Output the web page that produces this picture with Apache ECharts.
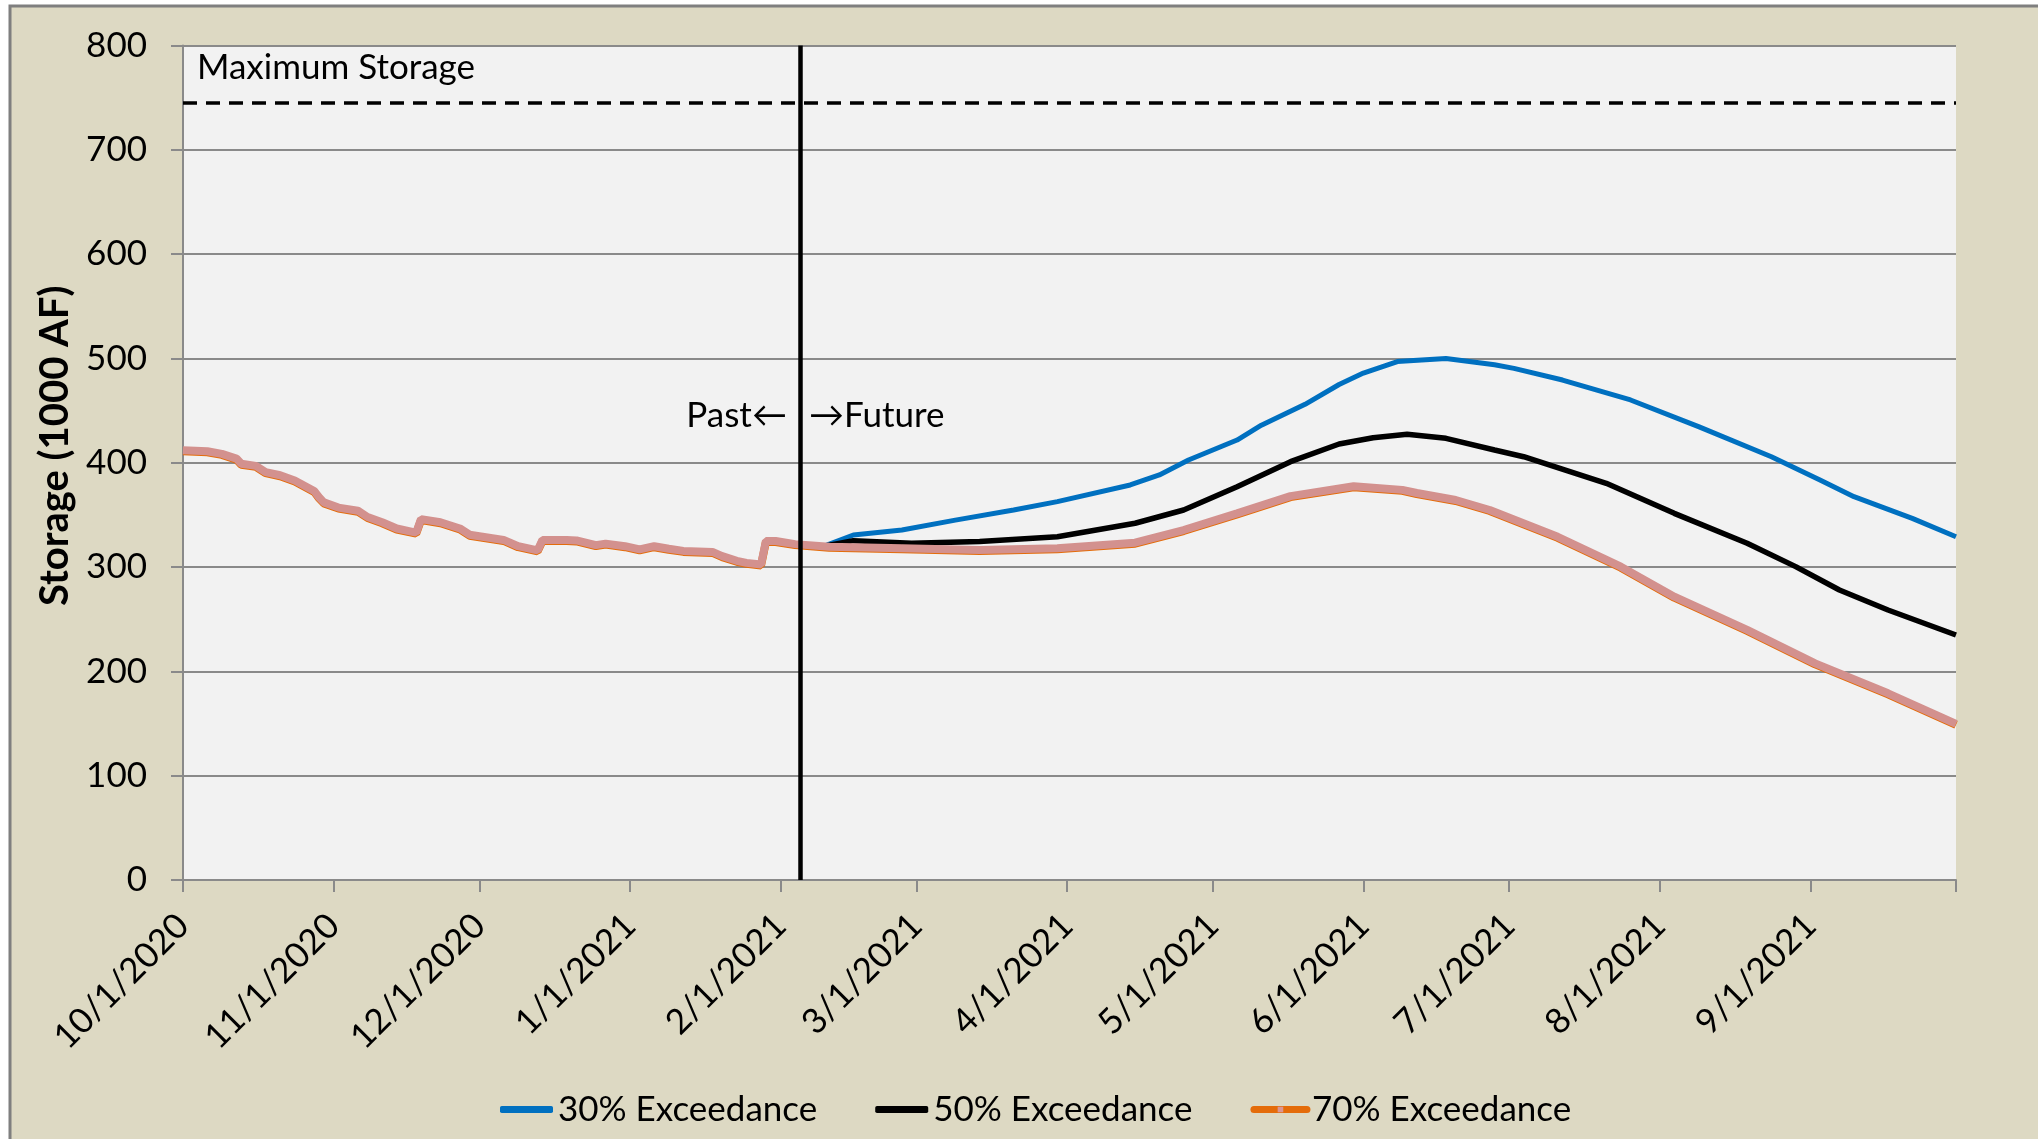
<!DOCTYPE html>
<html>
<head>
<meta charset="utf-8">
<script src="https://cdn.jsdelivr.net/npm/echarts@6/dist/echarts.min.js"></script>
<style>
html,body{margin:0;padding:0;background:#ffffff;}
#chart{width:2038px;height:1139px;}
</style>
</head>
<body>
<div id="chart"></div>
<script>
// ---------------- data ----------------
const seriesNames = ['30% Exceedance', '50% Exceedance', '70% Exceedance'];

// 70% exceedance (includes the observed past record)
const dates70 = ['2020-10-01','2020-10-06','2020-10-09','2020-10-12','2020-10-13','2020-10-16','2020-10-18','2020-10-21','2020-10-24','2020-10-26','2020-10-28','2020-10-29','2020-10-30','2020-11-02','2020-11-06','2020-11-08','2020-11-11','2020-11-14','2020-11-17','2020-11-18','2020-11-19','2020-11-23','2020-11-27','2020-11-29','2020-12-06','2020-12-09','2020-12-13','2020-12-14','2020-12-19','2020-12-21','2020-12-25','2020-12-27','2020-12-31','2021-01-03','2021-01-06','2021-01-09','2021-01-12','2021-01-18','2021-01-20','2021-01-23','2021-01-25','2021-01-28','2021-01-29','2021-01-31','2021-02-04','2021-02-11','2021-02-26','2021-03-14','2021-03-30','2021-04-15','2021-04-25','2021-05-06','2021-05-17','2021-05-30','2021-06-09','2021-06-12','2021-06-20','2021-06-27','2021-07-11','2021-07-24','2021-08-04','2021-08-19','2021-09-02','2021-09-17','2021-10-01'];
const values70 = [412,411,408.5,404,399,397,391,388,383,378,373,367,362,357,354,348,343,337,334,333,346,343,337,331,326,320,316,326,326,325.5,321,322.5,320,317,320,317.5,315.5,314.5,310.5,306,304,302.5,325,325,322,319.5,318,316.4,318,323.4,335.5,351.5,368,377.5,374,371,364.3,354.7,329,300.4,271.6,239.7,207.7,179,149.6];

// 30% exceedance forecast
const dates30 = ['2021-02-10','2021-02-16','2021-02-26','2021-03-09','2021-03-21','2021-03-30','2021-04-14','2021-04-20','2021-04-26','2021-05-06','2021-05-11','2021-05-20','2021-05-27','2021-06-01','2021-06-08','2021-06-18','2021-06-28','2021-07-02','2021-07-12','2021-07-26','2021-08-09','2021-08-24','2021-09-03','2021-09-10','2021-09-22','2021-10-01'];
const values30 = [320,330.7,335.5,345,354.7,362.7,378.7,388.3,402.6,421.8,436,456,475,486,497,500,494,490.5,479.3,460.2,434.6,405.8,383.5,367.5,346.7,329];

// 50% exceedance forecast
const dates50 = ['2021-02-10','2021-02-16','2021-02-28','2021-03-14','2021-03-30','2021-04-15','2021-04-25','2021-05-06','2021-05-17','2021-05-27','2021-06-03','2021-06-10','2021-06-18','2021-06-28','2021-07-04','2021-07-21','2021-08-04','2021-08-19','2021-08-29','2021-09-07','2021-09-17','2021-10-01'];
const values50 = [320,325.3,322.8,324.4,329,342,354.7,377,401,418,424,427.3,423.4,412.2,405.8,380.3,351.5,322.8,300.4,278,258.8,234.9];

const maxStorage = 745;
const splitDate = '2021-02-05';
const axisStart = '2020-10-01';
const axisEnd = '2021-10-01';
const yMin = 0, yMax = 800, yStep = 100;

// ---------------- helpers ----------------
function ts(s) { const p = s.split('-').map(Number); return new Date(p[0], p[1] - 1, p[2]).getTime(); }
function pairs(ds, vs) { return ds.map((d, i) => [ts(d), vs[i]]); }
const FONT = 'Lato';
const FS = 35;

const chart = echarts.init(document.getElementById('chart'), null, { renderer: 'canvas' });

const bgRect = {
  type: 'rect', z: -10, silent: true,
  shape: { x: 10, y: 6, width: 2100, height: 1200 },
  style: { fill: '#DDD9C3', stroke: '#7F7F7F', lineWidth: 3 }
};

const option = {
  animation: false,
  backgroundColor: '#ffffff',
  textStyle: { fontFamily: FONT },
  graphic: [bgRect],
  grid: {
    left: 183, right: 82, top: 45.5, bottom: 259,
    show: true, backgroundColor: '#F2F2F2', borderWidth: 0
  },
  legend: {
    left: 495, top: 1087,
    itemWidth: 53, itemHeight: 7, itemGap: 58,
    textStyle: { fontFamily: FONT, fontSize: FS, color: '#000' },
    data: [
      { name: seriesNames[0], icon: 'roundRect' },
      { name: seriesNames[1], icon: 'roundRect' },
      { name: seriesNames[2], lineStyle: { color: '#E46C0A', width: 7, cap: 'round' }, itemStyle: { color: '#D99694' } }
    ]
  },
  xAxis: {
    type: 'time',
    min: ts(axisStart), max: ts(axisEnd),
    splitNumber: 12,
    minInterval: 28 * 86400000, maxInterval: 31 * 86400000,
    axisLine: { show: true, lineStyle: { color: '#8A8A8A', width: 2 } },
    axisTick: { show: true, length: 12, lineStyle: { color: '#8A8A8A', width: 2 } },
    splitLine: { show: false },
    axisLabel: {
      show: true, rotate: 45, margin: 40, showMinLabel: true,
      fontFamily: FONT, fontSize: FS, color: '#000',
      formatter: function (v) {
        if (v >= ts(axisEnd)) return '';
        const d = new Date(v);
        return (d.getMonth() + 1) + '/' + d.getDate() + '/' + d.getFullYear();
      }
    }
  },
  yAxis: {
    type: 'value', min: yMin, max: yMax, interval: yStep,
    name: 'Storage (1000 AF)', nameLocation: 'middle', nameGap: 104,
    nameTextStyle: { fontFamily: FONT, fontSize: 40, fontWeight: 'bold', color: '#000', padding: [0, 0, 0, 34] },
    axisLine: { show: true, lineStyle: { color: '#8A8A8A', width: 2 } },
    axisTick: { show: true, length: 12, lineStyle: { color: '#8A8A8A', width: 2 } },
    splitLine: { show: true, lineStyle: { color: '#8A8A8A', width: 2 } },
    axisLabel: { margin: 36, fontFamily: FONT, fontSize: FS, color: '#000' }
  },
  series: [
    {
      name: seriesNames[0], type: 'line', symbol: 'none', smooth: false,
      data: pairs(dates30, values30),
      itemStyle: { color: '#0070C0' },
      lineStyle: { color: '#0070C0', width: 5 }
    },
    {
      name: seriesNames[1], type: 'line', symbol: 'none', smooth: false,
      data: pairs(dates50, values50),
      itemStyle: { color: '#000000' },
      lineStyle: { color: '#000000', width: 5.5 }
    },
    {
      name: seriesNames[2], type: 'line', symbol: 'rect', showSymbol: false, smooth: false,
      data: pairs(dates70, values70),
      itemStyle: { color: '#D99694' },
      lineStyle: { color: '#D3918E', width: 8, shadowColor: '#E46C0A', shadowBlur: 0, shadowOffsetY: 1 },
      markLine: {
        silent: true, symbol: 'none', animation: false,
        label: { show: false },
        data: [
          { yAxis: maxStorage, lineStyle: { color: '#000', width: 3.5, type: [14, 9] } },
          { xAxis: ts(splitDate), lineStyle: { color: '#000', width: 4.5, type: 'solid' } }
        ]
      }
    }
  ]
};

chart.setOption(option);

// annotation texts anchored to data coordinates
const pMax = chart.convertToPixel({ xAxisIndex: 0, yAxisIndex: 0 }, [ts(axisStart), 780]);
const pSplit = chart.convertToPixel({ xAxisIndex: 0, yAxisIndex: 0 }, [ts(splitDate), 445]);
const txt = { fill: '#000', fontSize: FS, fontFamily: FONT, verticalAlign: 'middle' };
chart.setOption({
  graphic: [
    bgRect,
    { type: 'text', z: 10, silent: true, x: pMax[0] + 14, y: pMax[1] + 1, style: Object.assign({ text: 'Maximum Storage', align: 'left' }, txt) },
    { type: 'text', z: 10, silent: true, x: pSplit[0] - 13, y: pSplit[1], style: Object.assign({ text: 'Past\u2190', align: 'right' }, txt) },
    { type: 'text', z: 10, silent: true, x: pSplit[0] + 9, y: pSplit[1], style: Object.assign({ text: '\u2192Future', align: 'left' }, txt) }
  ]
});
</script>
</body>
</html>
